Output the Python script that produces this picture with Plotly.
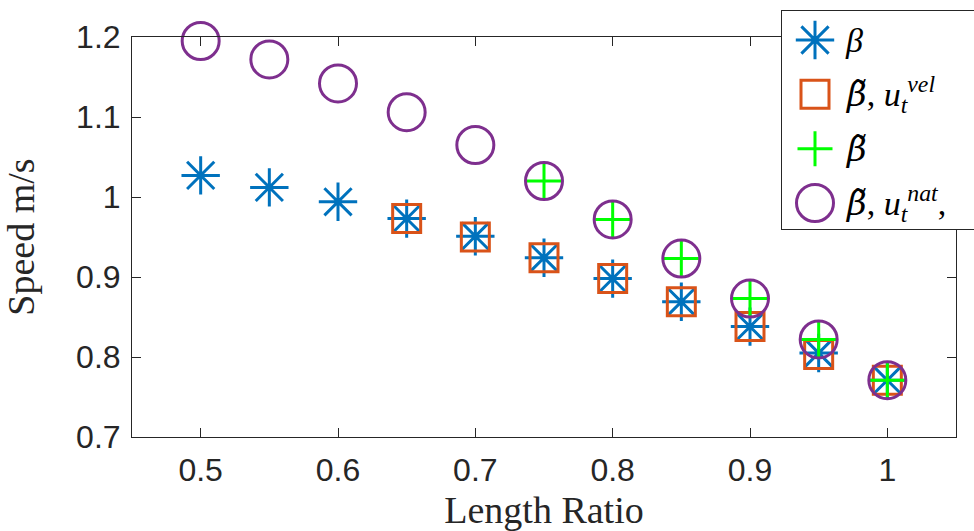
import plotly.graph_objects as go

# ---------------- data ----------------
ratio = [0.5, 0.55, 0.6, 0.65, 0.7, 0.75, 0.8, 0.85, 0.9, 0.95, 1.0]
beta = [1.027, 1.012, 0.994, 0.973, 0.951, 0.924, 0.898, 0.869, 0.838, 0.805, 0.771]

ratio_vel = [0.65, 0.7, 0.75, 0.8, 0.85, 0.9, 0.95, 1.0]
beta_tilde_vel = [0.973, 0.950, 0.924, 0.898, 0.869, 0.838, 0.803, 0.771]

ratio_tilde = [0.75, 0.8, 0.85, 0.9, 0.95, 1.0]
beta_tilde = [1.020, 0.972, 0.923, 0.873, 0.822, 0.771]

ratio_nat = [0.5, 0.55, 0.6, 0.65, 0.7, 0.75, 0.8, 0.85, 0.9, 0.95, 1.0]
beta_tilde_nat = [1.195, 1.172, 1.142, 1.106, 1.065, 1.020, 0.972, 0.923, 0.873, 0.822, 0.771]

x_tickvals = [0.5, 0.6, 0.7, 0.8, 0.9, 1.0]
x_ticktext = ["0.5", "0.6", "0.7", "0.8", "0.9", "1"]
y_tickvals = [0.7, 0.8, 0.9, 1.0, 1.1, 1.2]
y_ticktext = ["0.7", "0.8", "0.9", "1", "1.1", "1.2"]

BT = "<span style='font-family:DejaVu Serif'><i>β\u0303</i></span>"
legend_labels = [
    "<i>β</i>",
    BT + ", <i>u</i><sub><i>t</i></sub><sup><i>vel</i></sup>",
    BT,
    BT + ", <i>u</i><sub><i>t</i></sub><sup><i>nat</i></sup>,",
]

# ---------------- styles ----------------
AX_COLOR = "#262626"
series = [
    dict(x=ratio, y=beta, symbol="asterisk-open", size=32, color="#0072BD"),
    dict(x=ratio_vel, y=beta_tilde_vel, symbol="square-open", size=28, color="#D95319"),
    dict(x=ratio_tilde, y=beta_tilde, symbol="cross-thin-open", size=25, color="#00FF00"),
    dict(x=ratio_nat, y=beta_tilde_nat, symbol="circle-open", size=37, color="#7E2F8E"),
]

W, H = 974, 531
# plot area in pixels
PL, PR, PT, PB = 132, 956, 37, 437
# legend box in pixels
LL, LT, LB = 782, 11, 229
LEG_FIRST, LEG_LAST = 40, 203          # centre of first / last legend row
LEG_MARK_PX, LEG_TEXT_PX = 815, 843

M_L, M_B, M_R, M_T = PL, H - PB, 0, 0
paper_w = W - M_L - M_R
paper_h = H - M_B - M_T

def px_to_paper_x(px):
    return (px - M_L) / paper_w

def px_to_paper_y(py):
    return (H - M_B - py) / paper_h

fig = go.Figure()
for s, name in zip(series, legend_labels):
    fig.add_trace(go.Scatter(
        x=s["x"], y=s["y"], mode="markers", name=name, showlegend=False,
        cliponaxis=False,
        marker=dict(symbol=s["symbol"], size=s["size"], color=s["color"],
                    line=dict(color=s["color"], width=3)),
    ))

# custom legend drawn in its own small subplot (large markers like the original)
n = len(series)
row_step = (LEG_LAST - LEG_FIRST) / (n - 1)
y2_top = -(LEG_FIRST - LT) / row_step
y2_bot = (n - 1) + (LB - LEG_LAST) / row_step
x2_span = W - LL
mark_x = (LEG_MARK_PX - LL) / x2_span
text_x = (LEG_TEXT_PX - LL) / x2_span

legfont = dict(family="Liberation Serif, Times New Roman, serif", size=34, color="black")
for i, (s, name) in enumerate(zip(series, legend_labels)):
    fig.add_trace(go.Scatter(
        x=[mark_x], y=[i], xaxis="x2", yaxis="y2", mode="markers",
        showlegend=False, hoverinfo="skip", cliponaxis=False,
        marker=dict(symbol=s["symbol"], size=s["size"], color=s["color"],
                    line=dict(color=s["color"], width=3)),
    ))
    fig.add_annotation(
        x=text_x, y=i, xref="x2", yref="y2", text=name, showarrow=False,
        xanchor="left", yanchor="middle", font=legfont,
    )

tickfont = dict(family="Liberation Sans, Arial, sans-serif", size=32, color=AX_COLOR)
titlefont = dict(family="Liberation Serif, Times New Roman, serif", size=38, color=AX_COLOR)

fig.update_layout(
    width=W, height=H,
    margin=dict(l=M_L, r=M_R, t=M_T, b=M_B, pad=0),
    paper_bgcolor="white", plot_bgcolor="white",
    showlegend=False,
    xaxis=dict(
        domain=[0, px_to_paper_x(PR)], range=[0.45, 1.05],
        tickmode="array", tickvals=x_tickvals, ticktext=x_ticktext,
        ticks="inside", ticklen=9, tickwidth=1, tickcolor=AX_COLOR,
        showline=True, linecolor=AX_COLOR, linewidth=1, mirror="ticks",
        showgrid=False, zeroline=False, tickfont=tickfont, ticklabelstandoff=5,
        title=dict(text="Length Ratio", font=titlefont, standoff=18),
        automargin=False,
    ),
    yaxis=dict(
        domain=[0, px_to_paper_y(PT)], range=[0.7, 1.2],
        tickmode="array", tickvals=y_tickvals, ticktext=y_ticktext,
        ticks="inside", ticklen=9, tickwidth=1, tickcolor=AX_COLOR,
        showline=True, linecolor=AX_COLOR, linewidth=1, mirror="ticks",
        showgrid=False, zeroline=False, tickfont=tickfont, ticklabelstandoff=4,
        title=dict(text="Speed m/s", font=titlefont, standoff=30),
        automargin=False,
    ),
    xaxis2=dict(
        domain=[px_to_paper_x(LL), 1.0], range=[0, 1], anchor="y2",
        showline=True, linecolor=AX_COLOR, linewidth=1, mirror=True,
        showgrid=False, zeroline=False, showticklabels=False, ticks="",
        fixedrange=True,
    ),
    yaxis2=dict(
        domain=[px_to_paper_y(LB), px_to_paper_y(LT)], range=[y2_bot, y2_top], anchor="x2",
        showline=True, linecolor=AX_COLOR, linewidth=1, mirror=False,
        showgrid=False, zeroline=False, showticklabels=False, ticks="",
        fixedrange=True,
    ),
)

fig.write_html("out.html", config={"displayModeBar": False},
               post_script="document.body.style.margin='0';")
